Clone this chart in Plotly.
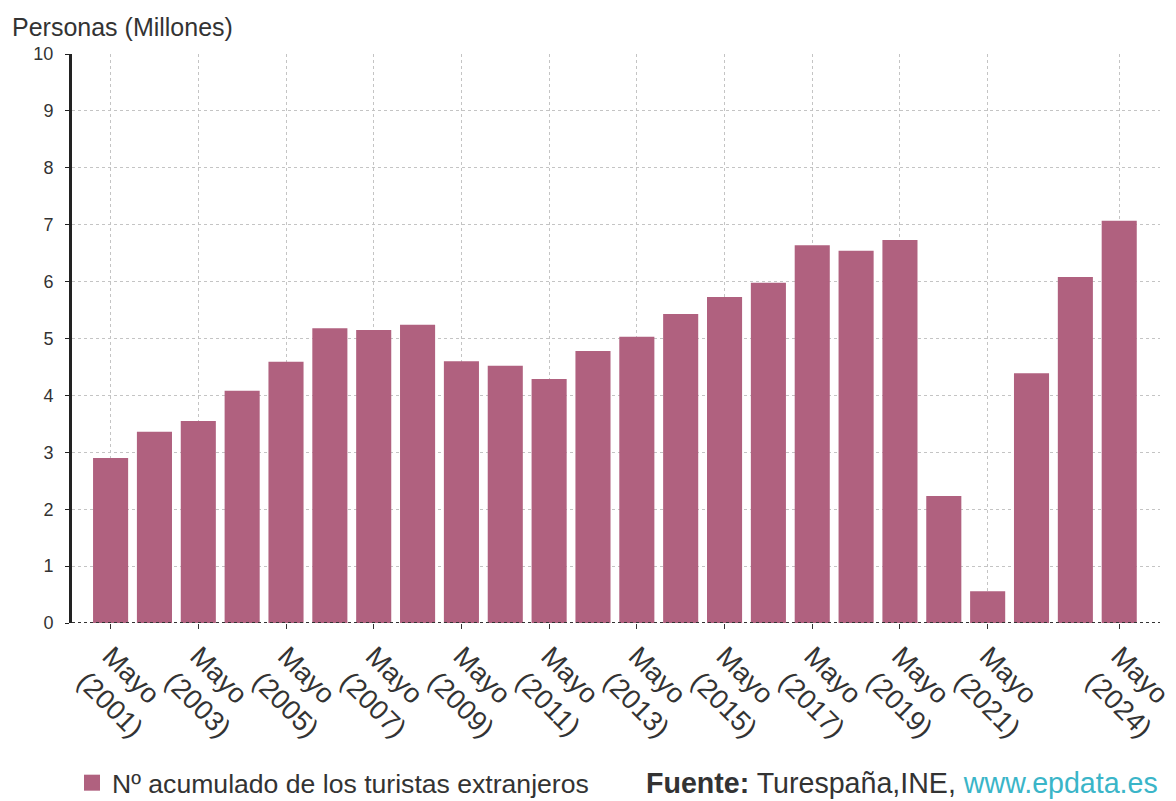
import plotly.graph_objects as go

years = list(range(2001, 2025))
values = [2.90, 3.36, 3.55, 4.08, 4.59, 5.18, 5.15, 5.24, 4.60, 4.52, 4.29, 4.78,
          5.03, 5.43, 5.73, 5.98, 6.64, 6.54, 6.73, 2.23, 0.56, 4.39, 6.08, 7.07]
tick_years = [2001, 2003, 2005, 2007, 2009, 2011, 2013, 2015, 2017, 2019, 2021, 2024]
tick_labels = [f"Mayo<br>({y})" for y in tick_years]
series_name = "Nº acumulado de los turistas extranjeros"
bar_color = "#b0617f"

x_idx = list(range(len(years)))
tick_idx = [years.index(y) for y in tick_years]

fig = go.Figure()
fig.add_trace(go.Bar(
    x=x_idx, y=values, width=0.8,
    marker=dict(color=bar_color, line=dict(width=0)),
    name=series_name, showlegend=False,
))
fig.add_trace(go.Scatter(
    x=[None], y=[None], mode="markers",
    marker=dict(symbol="square", size=18, color=bar_color),
    name=series_name, showlegend=True,
))

fig.update_layout(
    width=1176, height=801,
    margin=dict(l=72, r=16, t=54, b=178, autoexpand=False),
    paper_bgcolor="white", plot_bgcolor="white",
    font=dict(family="Liberation Sans, Arial, sans-serif", color="#333"),
    xaxis=dict(
        range=[-0.88, 23.93],
        tickvals=tick_idx, ticktext=tick_labels,
        tickangle=45,
        tickfont=dict(size=27.5, color="#333"),
        ticklabeloverflow="allow",
        showgrid=True, gridcolor="#c4c4c4", griddash="dot", gridwidth=1,
        ticks="outside", ticklen=5, tickcolor="#333",
        showline=False, zeroline=False, automargin=False,
    ),
    yaxis=dict(
        range=[0, 10], dtick=1,
        tickfont=dict(size=18, color="#333"),
        showgrid=True, gridcolor="#c4c4c4", griddash="dot", gridwidth=1,
        showline=True, linecolor="#222", linewidth=3,
        ticks="outside", ticklen=4, tickcolor="#222",
        ticklabelstandoff=8,
        zeroline=False, automargin=False,
    ),
    legend=dict(
        orientation="h", x=0.0, xanchor="left", y=-0.281, yanchor="middle",
        font=dict(size=26.6, color="#333"), bgcolor="rgba(0,0,0,0)",
        itemwidth=30,
    ),
    shapes=[dict(type="line", xref="paper", yref="y", x0=0, x1=1, y0=0, y1=0,
                 line=dict(color="#333", width=2, dash="dot"))],
    annotations=[
        dict(text="Personas (Millones)", xref="paper", yref="paper", x=-0.057, y=1.02,
             xanchor="left", yanchor="bottom", showarrow=False,
             font=dict(size=25, color="#333")),
        dict(text="<b>Fuente:</b> Turespaña,INE, <span style='color:#3ab5c8'>www.epdata.es</span>",
             xref="paper", yref="paper", x=1.0, y=-0.281, xanchor="right", yanchor="middle",
             showarrow=False, font=dict(size=28.6, color="#333")),
    ],
)

fig.write_html("out.html")
